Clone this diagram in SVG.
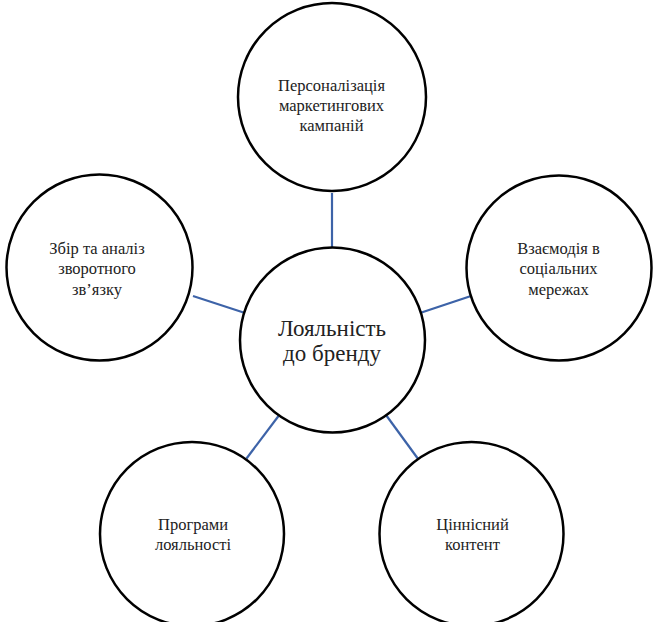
<svg xmlns="http://www.w3.org/2000/svg" width="657" height="622" viewBox="0 0 657 622">
<rect width="657" height="622" fill="#fff"/>
<g id="connectors" stroke="#3D63A8" stroke-width="2.2">
<line x1="332" y1="193" x2="332" y2="248"/>
<line x1="193" y1="296" x2="245" y2="313"/>
<line x1="420" y1="313" x2="471" y2="296"/>
<line x1="278.5" y1="416" x2="246.5" y2="458.5"/>
<line x1="386" y1="415" x2="418.5" y2="459.5"/>
</g>
<g id="nodes">
<g id="loyalty">
<circle cx="332.5" cy="340" r="92.5" fill="#fff" stroke="#000" stroke-width="2.5"/>
<text x="332" y="336" font-family="Liberation Serif" font-size="23" fill="#222" text-anchor="middle">Лояльність</text>
<text x="332" y="361" font-family="Liberation Serif" font-size="23" fill="#222" text-anchor="middle">до бренду</text>
</g>
<g id="personalization">
<circle cx="332" cy="97" r="94" fill="#fff" stroke="#000" stroke-width="2.5"/>
<text x="331.5" y="90.5" font-family="Liberation Serif" font-size="16.5" fill="#222" text-anchor="middle">Персоналізація</text>
<text x="331.5" y="110.5" font-family="Liberation Serif" font-size="16.5" fill="#222" text-anchor="middle">маркетингових</text>
<text x="331.5" y="131" font-family="Liberation Serif" font-size="16.5" fill="#222" text-anchor="middle">кампаній</text>
</g>
<g id="feedback">
<circle cx="99.5" cy="267.5" r="93" fill="#fff" stroke="#000" stroke-width="2.5"/>
<text x="97" y="253.5" font-family="Liberation Serif" font-size="16.5" fill="#222" text-anchor="middle">Збір та аналіз</text>
<text x="97" y="274" font-family="Liberation Serif" font-size="16.5" fill="#222" text-anchor="middle">зворотного</text>
<text x="97" y="294.5" font-family="Liberation Serif" font-size="16.5" fill="#222" text-anchor="middle">зв’язку</text>
</g>
<g id="social">
<circle cx="559" cy="268" r="92.5" fill="#fff" stroke="#000" stroke-width="2.5"/>
<text x="558.5" y="253.5" font-family="Liberation Serif" font-size="16.5" fill="#222" text-anchor="middle">Взаємодія в</text>
<text x="558.5" y="274" font-family="Liberation Serif" font-size="16.5" fill="#222" text-anchor="middle">соціальних</text>
<text x="558.5" y="294.5" font-family="Liberation Serif" font-size="16.5" fill="#222" text-anchor="middle">мережах</text>
</g>
<g id="programs">
<circle cx="192" cy="534" r="92" fill="#fff" stroke="#000" stroke-width="2.5"/>
<text x="193" y="530" font-family="Liberation Serif" font-size="16.5" fill="#222" text-anchor="middle">Програми</text>
<text x="193" y="549.5" font-family="Liberation Serif" font-size="16.5" fill="#222" text-anchor="middle">лояльності</text>
</g>
<g id="content">
<circle cx="471.5" cy="534" r="92" fill="#fff" stroke="#000" stroke-width="2.5"/>
<text x="472.5" y="530" font-family="Liberation Serif" font-size="16.5" fill="#222" text-anchor="middle">Ціннісний</text>
<text x="472.5" y="549.5" font-family="Liberation Serif" font-size="16.5" fill="#222" text-anchor="middle">контент</text>
</g>
</g>
</svg>
